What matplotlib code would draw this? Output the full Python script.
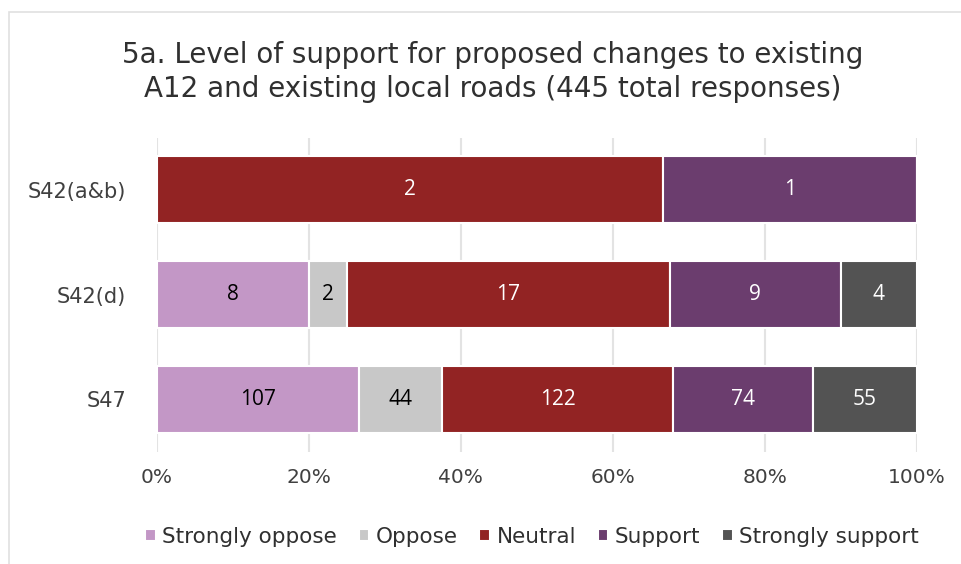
import matplotlib.pyplot as plt
import numpy as np

plt.rcParams['font.family'] = ['DejaVu Sans']

categories = ["S42(a&b)", "S42(d)", "S47"]
series = ["Strongly oppose", "Oppose", "Neutral", "Support", "Strongly support"]
strongly_oppose = [0, 8, 107]
oppose = [0, 2, 44]
neutral = [2, 17, 122]
support = [1, 9, 74]
strongly_support = [0, 4, 55]

colors = ["#C397C6", "#C8C8C8", "#922323", "#6B3D6E", "#535353"]
text_colors = ["black", "black", "white", "white", "white"]

data = np.array([strongly_oppose, oppose, neutral, support, strongly_support], dtype=float)
totals = data.sum(axis=0)
pct = data / totals * 100

fig = plt.figure(figsize=(9.62, 5.64), dpi=100)
# light chart border
fig.patches.append(plt.Rectangle((0.009, -0.1), 1.1, 1.079, transform=fig.transFigure,
                                 fill=False, edgecolor="#E0E0E0", linewidth=1.2))
ax = fig.add_axes([0.163, 0.199, 0.79, 0.557])

y = np.arange(len(categories))
left = np.zeros(len(categories))
for i, name in enumerate(series):
    ax.barh(y, pct[i], left=left, height=0.64, color=colors[i],
            edgecolor="white", linewidth=1.5, label=name, zorder=2)
    for j in range(len(categories)):
        if data[i, j] > 0:
            ax.text(left[j] + pct[i, j] / 2, y[j], f"{int(data[i, j])}",
                    ha="center", va="center", fontsize=15, color=text_colors[i],
                    family="Open Sans", zorder=3)
    left += pct[i]

ax.set_xlim(0, 100)
ax.set_ylim(2.5, -0.5)
ax.set_yticks(y)
ax.set_yticklabels(categories, fontsize=15, color="#404040")
ax.set_xticks(np.arange(0, 101, 20))
ax.set_xticklabels([f"{v}%" for v in range(0, 101, 20)], fontsize=14.5, color="#404040")
ax.tick_params(length=0, pad=22, axis="y")
ax.tick_params(length=0, pad=12, axis="x")
ax.grid(axis="x", color="#E3E3E3", linewidth=1.5, zorder=0)
for s in ax.spines.values():
    s.set_visible(False)

fig.text(0.512, 0.872, "5a. Level of support for proposed changes to existing\nA12 and existing local roads (445 total responses)",
         ha="center", va="center", fontsize=20, color="#303030", linespacing=1.25)

fig.legend(loc="center", bbox_to_anchor=(0.553, 0.048), ncol=5, frameon=False,
           fontsize=15.5, handlelength=0.5, handleheight=0.5, handletextpad=0.3,
           columnspacing=1.0, labelcolor="#303030")

fig.savefig("out.png", dpi=100)
